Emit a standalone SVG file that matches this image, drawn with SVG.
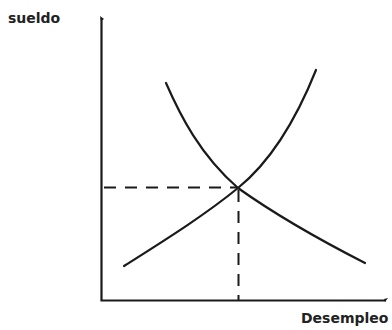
<svg xmlns="http://www.w3.org/2000/svg" width="392" height="330" viewBox="0 0 392 330">
<style>
.ax{stroke:#1a1a1a;stroke-width:2.2;fill:none}
.cv{stroke:#1a1a1a;stroke-width:2.2;fill:none;stroke-linecap:round}
.ds{stroke:#1a1a1a;stroke-width:2;fill:none;stroke-dasharray:12 9}
.lb{font-family:"DejaVu Sans",sans-serif;font-weight:bold;font-size:14px;fill:#222}
</style>
<rect width="392" height="330" fill="#fff"/>
<g id="axes">
<path class="ax" d="M101.5,18 V300.5 H386"/>
<path d="M100,16 L104,19 L101,21 Z" fill="#1a1a1a"/>
<path d="M388,298 L385,302 L384,299 Z" fill="#1a1a1a"/>
</g>
<g id="connectors">
<path class="ds" d="M104,187.5 H237"/>
<path class="ds" d="M238.5,190 V300"/>
</g>
<g id="demand">
<path class="cv" d="M166,83 C180,115 200,155 238,188 C280,218 320,240 365,263"/>
</g>
<g id="supply">
<path class="cv" d="M124,266 C165,240 205,215 238,188 C275,158 300,110 316,70"/>
</g>
<g id="labels">
<text class="lb" x="8" y="23">sueldo</text>
<text class="lb" x="301" y="323">Desempleo</text>
</g>
</svg>
